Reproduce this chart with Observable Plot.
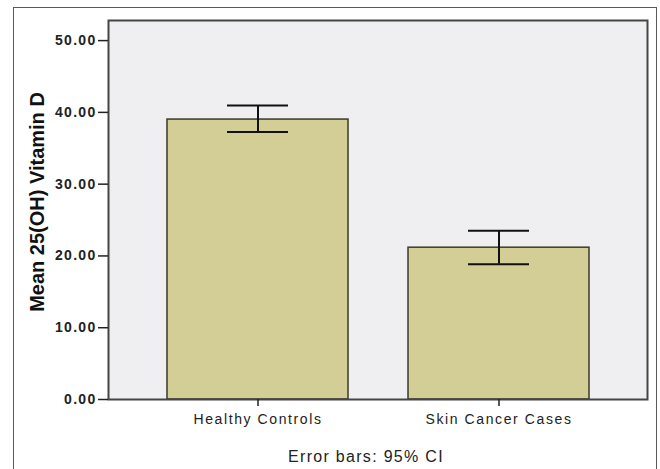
<!DOCTYPE html>
<html><head><meta charset="utf-8">
<script src="https://cdn.jsdelivr.net/npm/d3@7"></script>
<script src="https://cdn.jsdelivr.net/npm/@observablehq/plot@0.6"></script>
<style>
body{margin:0;background:#fff;font-family:"Liberation Sans",Arial,sans-serif;}
#wrap{position:relative;width:660px;height:469px;overflow:hidden;background:#fff;}
#border{position:absolute;left:13px;top:7px;width:644px;height:500px;border:1.5px solid #5a5a5a;box-sizing:border-box;pointer-events:none;}
#cap{position:absolute;left:0;top:440px;width:660px;padding-left:72px;box-sizing:border-box;text-align:center;font-size:16px;letter-spacing:1.3px;color:#222;line-height:34px;}
g[aria-label="y-axis tick label"] text{font-weight:bold;font-size:14px;letter-spacing:1.3px;fill:#222;}
g[aria-label="x-axis tick label"] text{font-size:14px;letter-spacing:1.6px;fill:#222;}
</style>
</head><body>
<div id="wrap"><div id="chart"></div><div id="cap">Error bars: 95% CI</div><div id="border"></div></div>
<script>
const groups = ["Healthy Controls", "Skin Cancer Cases"];
const means = [39.0, 21.15];
const ciLow = [37.25, 18.85];
const ciHigh = [40.95, 23.5];
const yTicks = [0, 10, 20, 30, 40, 50];
const yLabel = "Mean 25(OH) Vitamin D";

const data = groups.map((g, i) => ({group: g, mean: means[i], lo: ciLow[i], hi: ciHigh[i]}));

const chart = Plot.plot({
  width: 660, height: 440,
  marginLeft: 108, marginRight: 13, marginTop: 20, marginBottom: 41,
  style: {fontFamily: '"Liberation Sans", Arial, sans-serif', background: "transparent", color: "#222"},
  x: {domain: groups, paddingInner: 0.25, paddingOuter: 0.24, label: null},
  y: {domain: [0, 52.8], label: null},
  marks: [
    Plot.frame({fill: "#efeff2", stroke: "none"}),
    Plot.barY(data, {x: "group", y: "mean", fill: "#d3ce95", stroke: "#3a3a2a", strokeWidth: 1.5}),
    Plot.ruleX(data, {x: "group", y1: "lo", y2: "hi", stroke: "#111", strokeWidth: 2}),
    Plot.tickY(data, {x: "group", y: "lo", insetLeft: 60, insetRight: 60, stroke: "#111", strokeWidth: 2}),
    Plot.tickY(data, {x: "group", y: "hi", insetLeft: 60, insetRight: 60, stroke: "#111", strokeWidth: 2}),
    Plot.frame({stroke: "#454545", strokeWidth: 2}),
    Plot.axisY({ticks: yTicks, tickFormat: d => d.toFixed(2), tickSize: 10, tickPadding: 2, stroke: "#222", strokeWidth: 1.5, label: null}),
    Plot.axisX({tickSize: 7, tickPadding: 8, stroke: "#222", strokeWidth: 1.5, label: null}),
    Plot.text([yLabel], {frameAnchor: "left", text: d => d, rotate: -90, dx: -71, dy: -8, fontSize: 20, fontWeight: "bold", fill: "#111", textAnchor: "middle"})
  ]
});
document.getElementById("chart").appendChild(chart);
</script>
</body></html>
